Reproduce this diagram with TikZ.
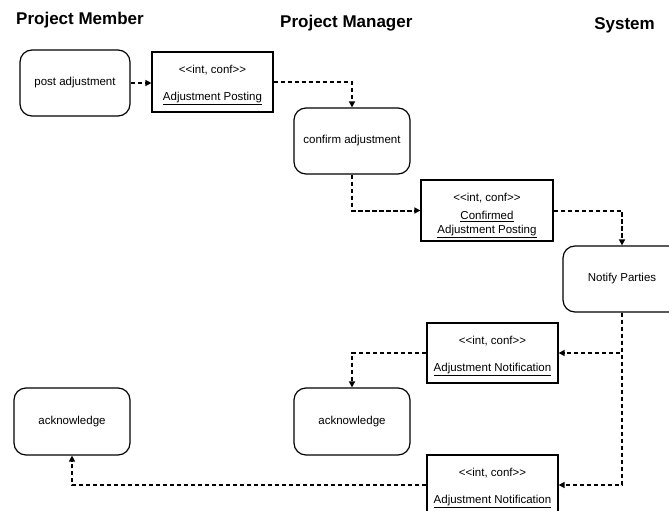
\documentclass[tikz,border=0pt]{standalone}
\usepackage{fontspec}
\setmainfont{Liberation Sans}
\usetikzlibrary{arrows.meta}
\newcommand{\stereo}{<\kern0pt<int, conf>\kern0pt>}
\tikzset{
  hdr/.style={font=\fontsize{17}{20}\selectfont\bfseries, inner sep=0pt},
  act/.style={draw, line width=1.2pt, rounded corners=12pt, align=center,
    font=\fontsize{11.5}{13.8}\selectfont, inner sep=0pt},
  obj/.style={draw, line width=1.2pt, align=center,
    font=\fontsize{11.5}{13.8}\selectfont, inner sep=0pt},
  flow/.style={line width=2pt, dash pattern=on 4.5pt off 2.5pt,
    -{Triangle[length=6pt,width=6pt]}},
}
\begin{document}
\begin{tikzpicture}[x=1pt,y=-1pt]
\clip (0,0) rectangle (669,511);
\fill[white] (0,0) rectangle (669,511);
% headers
\node[hdr, anchor=base west] (h1) at (16,25) {Project Member};
\node[hdr, anchor=base west] (h2) at (280,28) {Project Manager};
\node[hdr, anchor=base east] (h3) at (655,30) {System};
% activities
\node[act, minimum width=110pt, minimum height=66pt] (pa) at (75,83) {post adjustment};
\node[act, minimum width=116pt, minimum height=66pt] (ca) at (352,141) {confirm adjustment};
\node[act, minimum width=118pt, minimum height=66pt] (np) at (622,279) {Notify Parties};
\node[act, minimum width=116pt, minimum height=67pt] (ak1) at (72,421.5) {acknowledge};
\node[act, minimum width=116pt, minimum height=67pt] (ak2) at (352,421.5) {acknowledge};
% objects
\node[obj, minimum width=121pt, minimum height=60pt] (ap) at (212.5,82) {\rule{0pt}{14pt}\stereo\\[13.5pt]\underline{Adjustment Posting}};
\node[obj, minimum width=132pt, minimum height=61pt] (cp) at (487,210.5) {\rule{0pt}{18pt}\stereo\\[5pt]\underline{Confirmed}\\\underline{Adjustment Posting}};
\node[obj, minimum width=131pt, minimum height=60pt] (an1) at (492.5,353) {\rule{0pt}{14pt}\stereo\\[13.5pt]\underline{Adjustment Notification}};
\node[obj, minimum width=131pt, minimum height=60pt] (an2) at (492.5,485) {\rule{0pt}{14pt}\stereo\\[13.5pt]\underline{Adjustment Notification}};
% flows
\draw[flow] (pa.east) -- (pa.east -| ap.west);
\draw[flow] (ap.east) -| (ca.north);
\draw[flow] (ca.south) |- (cp.west);
\draw[flow] (cp.east) -| (np.north);
\draw[flow] (np.south) |- (an1.east);
\draw[flow] (an1.west) -| (ak2.north);
\draw[flow] (np.south) |- (an2.east);
\draw[flow] (an2.west) -| (ak1.south);
\end{tikzpicture}
\end{document}
